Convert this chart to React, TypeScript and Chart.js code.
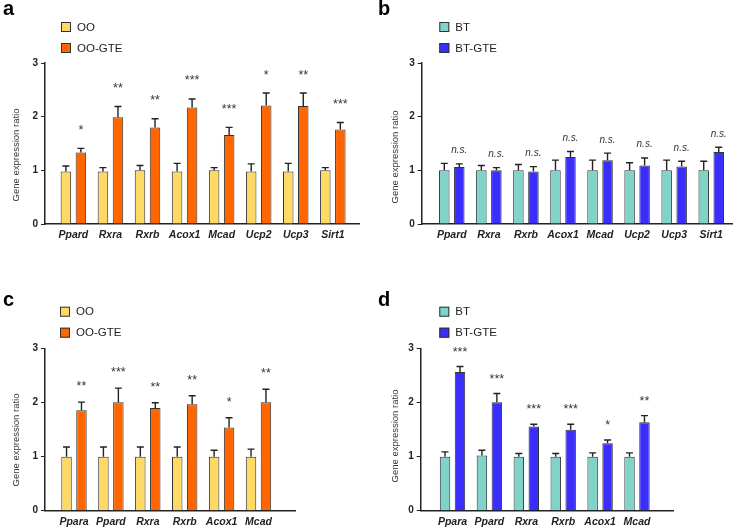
import React, { useEffect, useRef } from "react";
import { Chart, registerables } from "chart.js";

Chart.register(...registerables);

// ---------- data ----------
const genesAB = ["Ppard", "Rxra", "Rxrb", "Acox1", "Mcad", "Ucp2", "Ucp3", "Sirt1"];
const genesCD = ["Ppara", "Ppard", "Rxra", "Rxrb", "Acox1", "Mcad"];

// panel a
const ooA = [0.98, 0.98, 1.0, 0.98, 1.0, 0.98, 0.98, 1.0];
const ooA_sem = [0.1, 0.07, 0.09, 0.15, 0.05, 0.14, 0.15, 0.05];
const ooGteA = [1.33, 1.99, 1.8, 2.17, 1.66, 2.21, 2.2, 1.76];
const ooGteA_sem = [0.08, 0.2, 0.16, 0.16, 0.14, 0.23, 0.24, 0.13];
const sigA = ["*", "**", "**", "***", "***", "*", "**", "***"];

// panel b
const btB = [1.0, 1.0, 1.0, 1.0, 1.0, 1.0, 1.0, 1.0];
const btB_sem = [0.13, 0.09, 0.11, 0.19, 0.19, 0.14, 0.19, 0.17];
const btGteB = [1.06, 1.0, 0.98, 1.25, 1.19, 1.09, 1.07, 1.34];
const btGteB_sem = [0.06, 0.05, 0.09, 0.1, 0.13, 0.14, 0.1, 0.09];
const sigB = ["n.s.", "n.s.", "n.s.", "n.s.", "n.s.", "n.s.", "n.s.", "n.s."];

// panel c
const ooC = [1.0, 1.0, 1.0, 1.0, 1.0, 1.0];
const ooC_sem = [0.18, 0.18, 0.18, 0.18, 0.12, 0.14];
const ooGteC = [1.86, 2.01, 1.9, 1.97, 1.54, 2.01];
const ooGteC_sem = [0.15, 0.26, 0.1, 0.16, 0.18, 0.24];
const sigC = ["**", "***", "**", "**", "*", "**"];

// panel d
const btD = [1.0, 1.02, 1.0, 1.0, 1.0, 1.0];
const btD_sem = [0.09, 0.1, 0.06, 0.06, 0.07, 0.07];
const btGteD = [2.57, 2.01, 1.56, 1.5, 1.25, 1.64];
const btGteD_sem = [0.1, 0.16, 0.04, 0.1, 0.06, 0.12];
const sigD = ["***", "***", "***", "***", "*", "**"];

const yTicks = [0, 1, 2, 3];
const yTitle = "Gene expression ratio";

// ---------- styles ----------
const FONT = '"Liberation Sans", Arial, sans-serif';
const C_OO = "#FFD966";
const C_OOGTE = "#FF6600";
const C_BT = "#7FD3C9";
const C_BTGTE = "#3A2EFF";
const INK = "#222222";

type Series = { label: string; values: number[]; sem: number[]; color: string };
type Layout = {
  axisLeft: number;
  axisRight: number;
  top: number;
  bottom: number;
  firstCenter: number;
  spacing: number;
  legendX: number;
  legendY: number;
  letterY: number;
  titleX: number;
  titleY: number;
  starGap: number;
};

const W = 375;
const H = 264;

function Panel(props: {
  left: number;
  top: number;
  letter: string;
  categories: string[];
  series: Series[];
  sig: string[];
  L: Layout;
}) {
  const ref = useRef<HTMLCanvasElement>(null);
  useEffect(() => {
    const { categories, series, sig, L, letter } = props;
    const canvas = ref.current!;
    const min = -(L.firstCenter - L.axisLeft) / L.spacing;
    const max = min + (L.axisRight - L.axisLeft) / L.spacing;

    const annot = {
      id: "annot",
      afterDraw(chart: any) {
        const ctx = chart.ctx as CanvasRenderingContext2D;
        const ys = chart.scales.y;
        ctx.save();
        // error bars (upper only)
        series.forEach((s, di) => {
          const meta = chart.getDatasetMeta(di);
          meta.data.forEach((el: any, i: number) => {
            const yTop = ys.getPixelForValue(s.values[i] + s.sem[i]);
            ctx.strokeStyle = INK;
            ctx.lineWidth = 1.4;
            ctx.beginPath();
            ctx.moveTo(el.x, el.y);
            ctx.lineTo(el.x, yTop);
            ctx.moveTo(el.x - 3.5, yTop);
            ctx.lineTo(el.x + 3.5, yTop);
            ctx.stroke();
          });
        });
        // significance marks above the treated series
        const s2 = series[1];
        const meta2 = chart.getDatasetMeta(1);
        ctx.fillStyle = "#333";
        ctx.textAlign = "center";
        ctx.textBaseline = "alphabetic";
        sig.forEach((t, i) => {
          const el: any = meta2.data[i];
          const yTop = ys.getPixelForValue(s2.values[i] + s2.sem[i]);
          if (t === "n.s.") {
            ctx.font = `italic 10px ${FONT}`;
            ctx.fillText(t, el.x, yTop - 10.5);
          } else {
            ctx.font = `12.5px ${FONT}`;
            ctx.fillText(t, el.x, yTop - L.starGap);
          }
        });
        // panel letter
        ctx.font = `bold 20px ${FONT}`;
        ctx.textAlign = "left";
        ctx.fillStyle = "#000";
        ctx.fillText(letter, 3, L.letterY);
        // legend
        series.forEach((s, i) => {
          const y = L.legendY + i * 21;
          ctx.fillStyle = s.color;
          ctx.fillRect(L.legendX, y, 10, 10);
          ctx.strokeStyle = "#333";
          ctx.lineWidth = 1;
          ctx.strokeRect(L.legendX + 0.5, y + 0.5, 9, 9);
          ctx.fillStyle = INK;
          ctx.font = `11.5px ${FONT}`;
          ctx.textBaseline = "middle";
          ctx.textAlign = "left";
          ctx.fillText(s.label, L.legendX + 16, y + 5.5);
        });
        // y-axis title
        ctx.translate(L.titleX, L.titleY);
        ctx.rotate(-Math.PI / 2);
        ctx.font = `9.5px ${FONT}`;
        ctx.textAlign = "center";
        ctx.textBaseline = "middle";
        ctx.fillStyle = "#333";
        ctx.fillText(yTitle, 0, 0);
        ctx.restore();
      },
    };

    const chart = new Chart(canvas, {
      type: "bar",
      data: {
        datasets: series.map((s) => ({
          label: s.label,
          data: s.values.map((v, i) => ({ x: i, y: v })),
          backgroundColor: s.color,
          borderColor: "#333",
          borderWidth: 1,
          categoryPercentage: 0.81,
          barPercentage: 0.7,
        })),
      },
      options: {
        responsive: false,
        maintainAspectRatio: false,
        animation: false,
        devicePixelRatio: 1,
        layout: { padding: { top: L.top, right: W - L.axisRight, bottom: 0, left: 0 } },
        plugins: { legend: { display: false }, tooltip: { enabled: false }, title: { display: false } },
        scales: {
          x: {
            type: "linear",
            min,
            max,
            offset: false,
            afterBuildTicks: (s: any) => {
              s.ticks = categories.map((_, i) => ({ value: i }));
            },
            afterFit: (s: any) => {
              s.height = H - L.bottom;
            },
            grid: { display: false, drawTicks: false },
            border: { display: true, color: INK, width: 1.5 },
            ticks: {
              autoSkip: false,
              maxRotation: 0,
              minRotation: 0,
              padding: 5,
              color: INK,
              font: { family: FONT, size: 10.5, style: "italic", weight: "bold" },
              callback: (v: any) => categories[v] ?? "",
            },
          },
          y: {
            min: yTicks[0],
            max: yTicks[yTicks.length - 1],
            afterBuildTicks: (s: any) => {
              s.ticks = yTicks.map((v) => ({ value: v }));
            },
            afterFit: (s: any) => {
              s.width = L.axisLeft;
            },
            grid: { drawOnChartArea: false, drawTicks: true, tickLength: 4, color: INK, lineWidth: 1 },
            border: { display: true, color: INK, width: 1.5 },
            ticks: {
              padding: 3,
              color: INK,
              font: { family: FONT, size: 10, weight: "bold" },
            },
          },
        },
      } as any,
      plugins: [annot],
    });
    return () => chart.destroy();
  }, []);
  return (
    <canvas
      ref={ref}
      width={W}
      height={H}
      style={{ position: "absolute", left: props.left, top: props.top, display: "block", width: W, height: H }}
    />
  );
}

export default function App() {
  return (
    <div style={{ position: "fixed", left: 0, top: 0, width: 750, height: 528, background: "#fff", overflow: "hidden" }}>
      <Panel
        left={0}
        top={0}
        letter="a"
        categories={genesAB}
        series={[
          { label: "OO", values: ooA, sem: ooA_sem, color: C_OO },
          { label: "OO-GTE", values: ooGteA, sem: ooGteA_sem, color: C_OOGTE },
        ]}
        sig={sigA}
        L={{ axisLeft: 45, axisRight: 359, top: 63, bottom: 224, firstCenter: 73.4, spacing: 37.06, legendX: 61, legendY: 22, letterY: 15, titleX: 16, titleY: 155, starGap: 14.5 }}
      />
      <Panel
        left={375}
        top={0}
        letter="b"
        categories={genesAB}
        series={[
          { label: "BT", values: btB, sem: btB_sem, color: C_BT },
          { label: "BT-GTE", values: btGteB, sem: btGteB_sem, color: C_BTGTE },
        ]}
        sig={sigB}
        L={{ axisLeft: 46.7, axisRight: 357.3, top: 63, bottom: 224, firstCenter: 76.8, spacing: 37.06, legendX: 64.3, legendY: 22, letterY: 15, titleX: 20, titleY: 157, starGap: 12 }}
      />
      <Panel
        left={0}
        top={264}
        letter="c"
        categories={genesCD}
        series={[
          { label: "OO", values: ooC, sem: ooC_sem, color: C_OO },
          { label: "OO-GTE", values: ooGteC, sem: ooGteC_sem, color: C_OOGTE },
        ]}
        sig={sigC}
        L={{ axisLeft: 45, axisRight: 295, top: 84.7, bottom: 246.7, firstCenter: 74, spacing: 36.9, legendX: 60, legendY: 42.7, letterY: 41.5, titleX: 16.5, titleY: 176, starGap: 12 }}
      />
      <Panel
        left={375}
        top={264}
        letter="d"
        categories={genesCD}
        series={[
          { label: "BT", values: btD, sem: btD_sem, color: C_BT },
          { label: "BT-GTE", values: btGteD, sem: btGteD_sem, color: C_BTGTE },
        ]}
        sig={sigD}
        L={{ axisLeft: 45.7, axisRight: 298.3, top: 84.7, bottom: 246.7, firstCenter: 77.5, spacing: 36.9, legendX: 64.3, legendY: 42.7, letterY: 41.5, titleX: 20.5, titleY: 172, starGap: 11 }}
      />
    </div>
  );
}
